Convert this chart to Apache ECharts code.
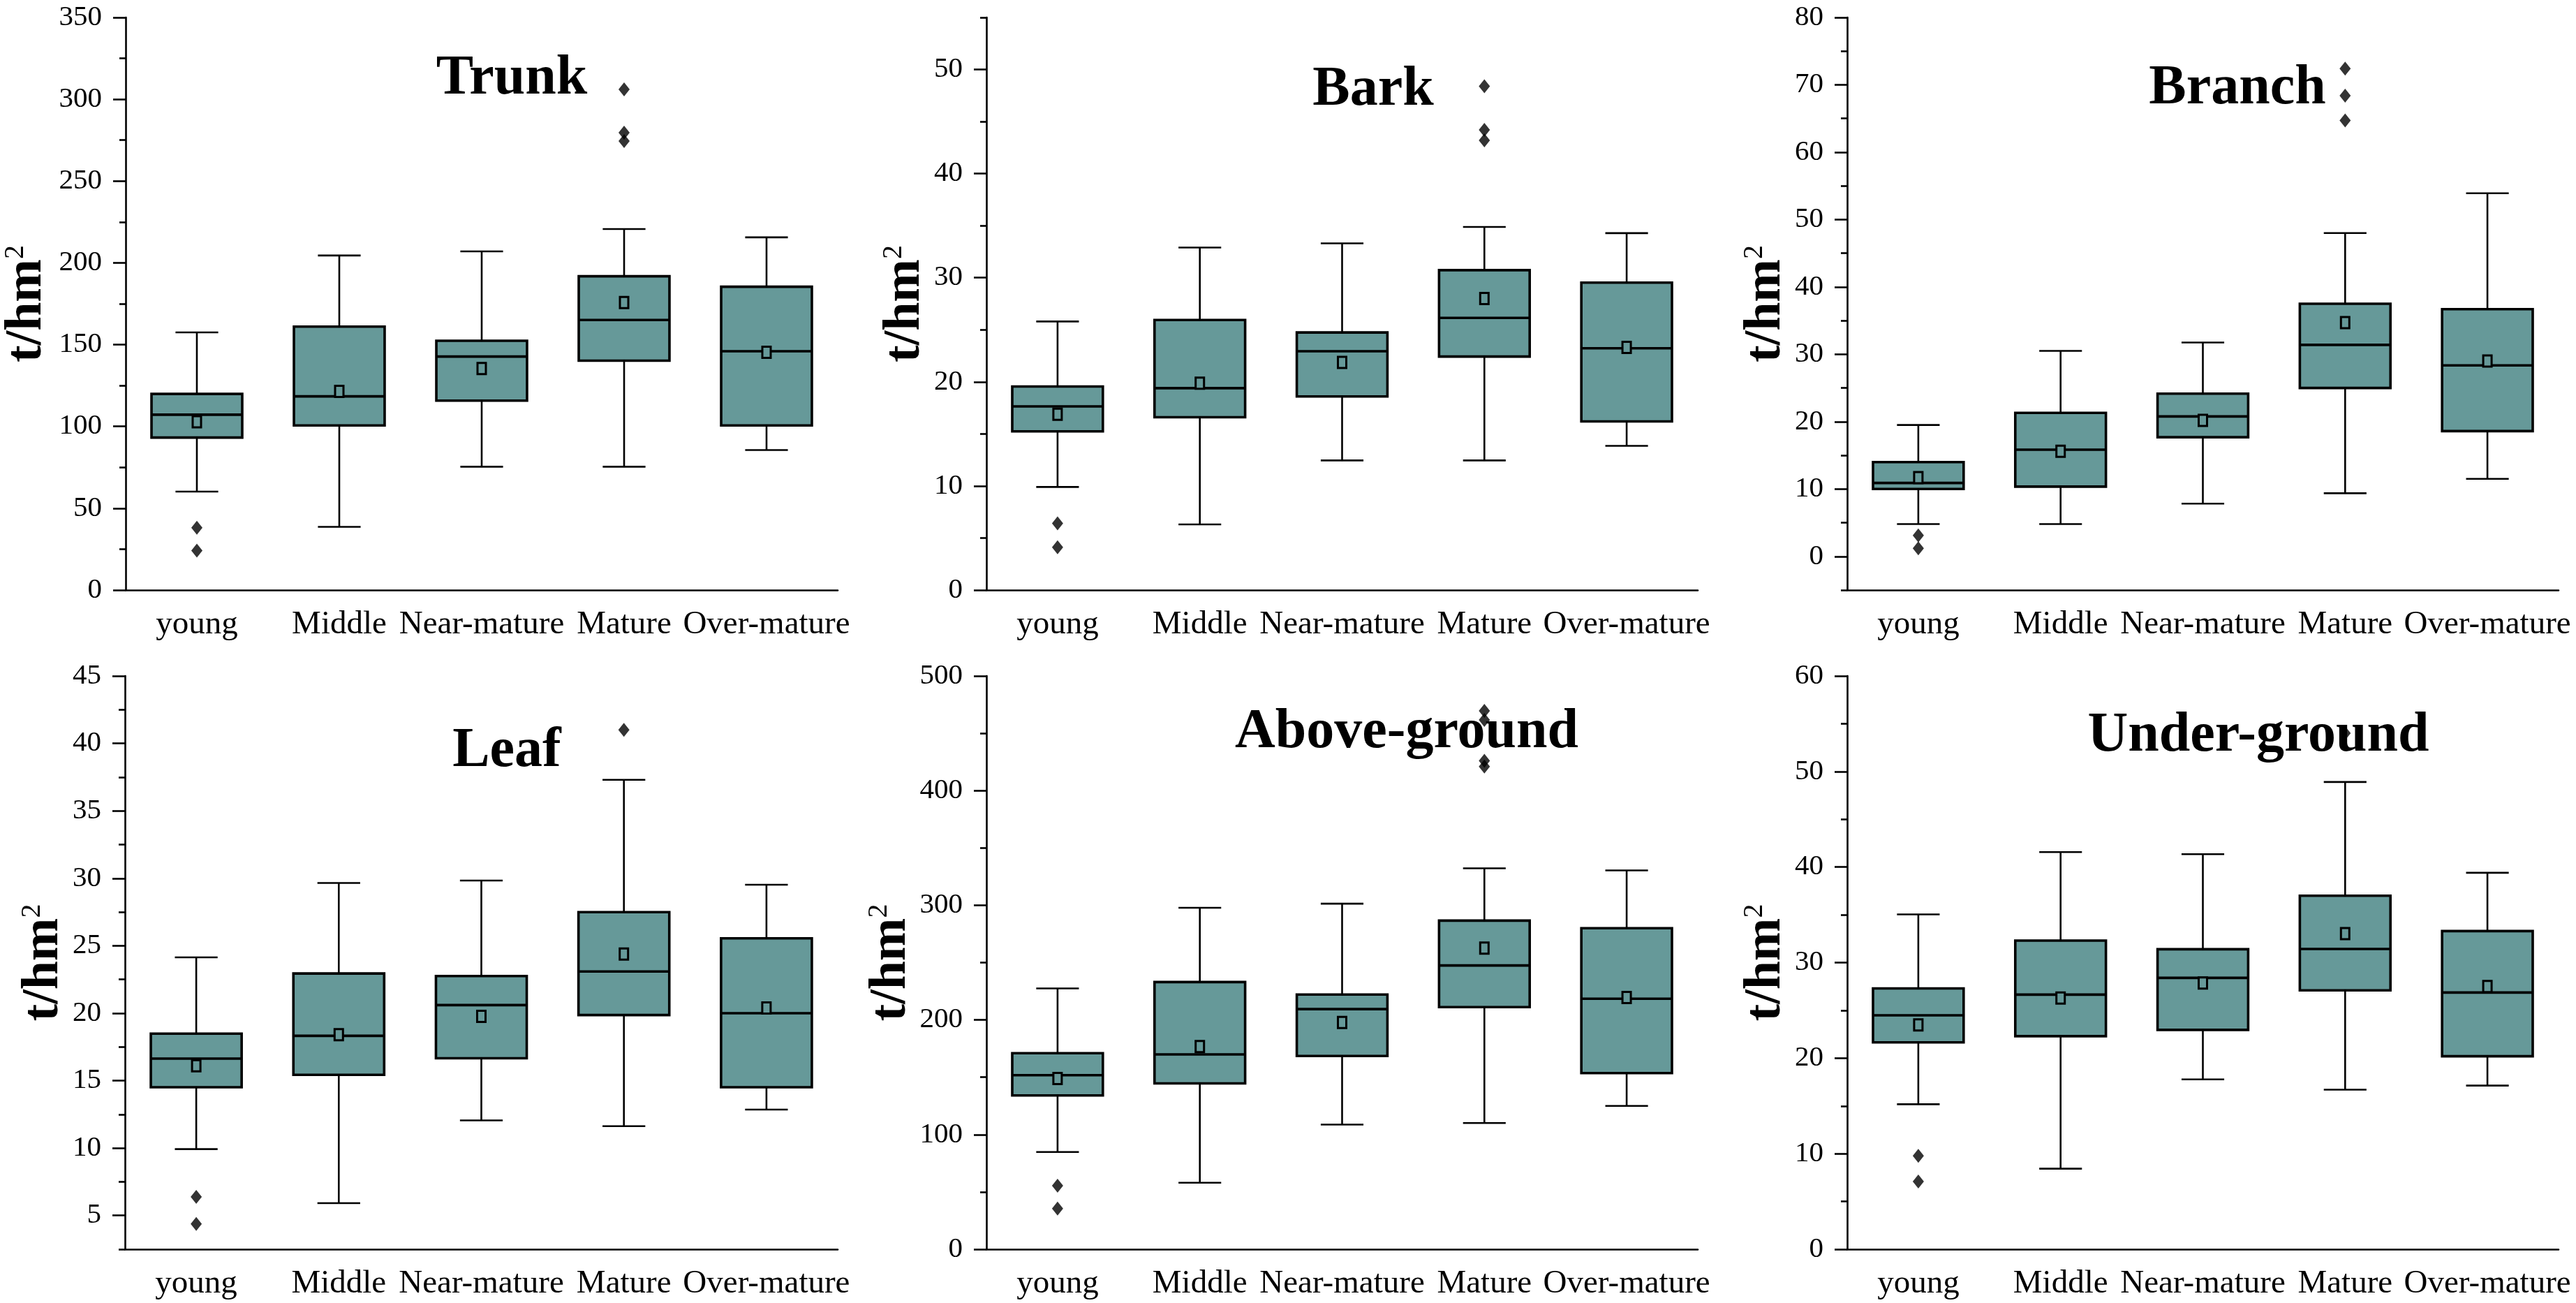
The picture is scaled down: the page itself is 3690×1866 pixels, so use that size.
<!DOCTYPE html>
<html>
<head>
<meta charset="utf-8">
<script src="https://cdn.jsdelivr.net/npm/echarts@6/dist/echarts.min.js"></script>
<style>
html, body { margin: 0; padding: 0; background: #fff; }
#chart { width: 3690px; height: 1866px; }
</style>
</head>
<body>
<div id="chart"></div>
<script>
// 类别
const categories = ['young', 'Middle', 'Near-mature', 'Mature', 'Over-mature'];

// 每个箱子: [下须, Q1, 中位数, Q3, 上须]
const trunkBox = [
  [60.2, 93.2, 107.2, 119.9, 157.5],
  [38.6, 100.6, 118.4, 161.0, 204.5],
  [75.4, 115.8, 142.7, 152.4, 207.0],
  [75.4, 140.2, 165.1, 191.8, 220.7],
  [85.6, 100.6, 146.0, 185.4, 215.6]
];
const trunkMean = [102.9, 121.4, 135.4, 175.8, 145.3];
const trunkOutliers = [[0, 38.1], [0, 24.1], [3, 306], [3, 279.6], [3, 274.4]];

const barkBox = [
  [9.9, 15.24, 17.64, 19.55, 25.8],
  [6.3, 16.6, 19.39, 25.94, 32.9],
  [12.45, 18.6, 22.94, 24.74, 33.3],
  [12.45, 22.43, 26.14, 30.73, 34.88],
  [13.85, 16.2, 23.22, 29.53, 34.28]
];
const barkMean = [16.88, 19.87, 21.87, 28.01, 23.3];
const barkOutliers = [[0, 6.4], [0, 4.1], [3, 48.4], [3, 44.2], [3, 43.2]];

const branchBox = [
  [4.8, 10.0, 10.9, 14.0, 19.5],
  [4.8, 10.35, 15.84, 21.3, 30.5],
  [7.83, 17.69, 20.77, 24.16, 31.74],
  [9.37, 25.0, 31.4, 37.5, 48.0],
  [11.5, 18.6, 28.35, 36.7, 53.9]
];
const branchMean = [11.7, 15.6, 20.2, 34.7, 29.0];
const branchOutliers = [[0, 3.1], [0, 1.2], [3, 72.4], [3, 68.4], [3, 64.7]];

const leafBox = [
  [9.92, 14.51, 16.63, 18.48, 24.14],
  [5.92, 15.43, 18.32, 22.94, 29.65],
  [12.05, 16.66, 20.6, 22.75, 29.83],
  [11.62, 19.86, 23.09, 27.49, 37.3],
  [12.85, 14.51, 20.0, 25.55, 29.52]
];
const leafMean = [16.1, 18.4, 19.77, 24.38, 20.38];
const leafOutliers = [[0, 6.38], [0, 4.38], [3, 41.0]];

const aboveBox = [
  [84.8, 134.1, 151.8, 171.0, 227.5],
  [58.0, 144.6, 169.9, 233.0, 297.8],
  [108.7, 168.5, 209.4, 222.1, 301.4],
  [110.1, 211.2, 247.5, 286.6, 332.2],
  [125.0, 153.6, 218.5, 280.0, 330.4]
];
const aboveMean = [148.9, 176.8, 197.8, 262.7, 219.6];
const aboveOutliers = [[0, 55.4], [0, 35.5], [3, 469.6], [3, 461.6], [3, 426], [3, 421]];

const underBox = [
  [15.17, 21.65, 24.48, 27.3, 35.04],
  [8.43, 22.3, 26.65, 32.3, 41.57],
  [17.78, 22.96, 28.4, 31.4, 41.35],
  [16.7, 27.09, 31.43, 37.0, 48.9],
  [17.13, 20.2, 26.87, 33.3, 39.4]
];
const underMean = [23.48, 26.3, 27.87, 33.04, 27.5];
const underOutliers = [[0, 9.78], [0, 7.09], [3, 54.0]];

// 坐标轴刻度
const trunkTicks = [0, 50, 100, 150, 200, 250, 300, 350];
const trunkMinor = [25, 75, 125, 175, 225, 275, 325];
const barkTicks = [0, 10, 20, 30, 40, 50];
const barkMinor = [5, 15, 25, 35, 45, 55];
const branchTicks = [0, 10, 20, 30, 40, 50, 60, 70, 80];
const branchMinor = [-5, 5, 15, 25, 35, 45, 55, 65, 75];
const leafTicks = [5, 10, 15, 20, 25, 30, 35, 40, 45];
const leafMinor = [2.5, 7.5, 12.5, 17.5, 22.5, 27.5, 32.5, 37.5, 42.5];
const aboveTicks = [0, 100, 200, 300, 400, 500];
const aboveMinor = [50, 150, 250, 350, 450];
const underTicks = [0, 10, 20, 30, 40, 50, 60];
const underMinor = [5, 15, 25, 35, 45, 55];

const panels = [
  { title: 'Trunk', box: trunkBox, mean: trunkMean, out: trunkOutliers, ticks: trunkTicks, minor: trunkMinor, min: 0, max: 350,
    left: 180, top: 25, width: 1020, height: 820, nameGap: 104, tx: 733, ty: 113 },
  { title: 'Bark', box: barkBox, mean: barkMean, out: barkOutliers, ticks: barkTicks, minor: barkMinor, min: 0, max: 55,
    left: 1413, top: 25, width: 1019, height: 820, nameGap: 76, tx: 1967, ty: 129 },
  { title: 'Branch', box: branchBox, mean: branchMean, out: branchOutliers, ticks: branchTicks, minor: branchMinor, min: -5, max: 80,
    left: 2646, top: 25, width: 1019, height: 820, nameGap: 73, tx: 3205, ty: 127 },
  { title: 'Leaf', box: leafBox, mean: leafMean, out: leafOutliers, ticks: leafTicks, minor: leafMinor, min: 2.5, max: 45,
    left: 179, top: 968, width: 1021, height: 821, nameGap: 78, tx: 726, ty: 1076 },
  { title: 'Above-ground', box: aboveBox, mean: aboveMean, out: aboveOutliers, ticks: aboveTicks, minor: aboveMinor, min: 0, max: 500,
    left: 1413, top: 968, width: 1019, height: 821, nameGap: 92, tx: 2015, ty: 1049 },
  { title: 'Under-ground', box: underBox, mean: underMean, out: underOutliers, ticks: underTicks, minor: underMinor, min: 0, max: 60,
    left: 2646, top: 968, width: 1019, height: 821, nameGap: 73, tx: 3235, ty: 1054 }
];

const FONT = '"Liberation Serif", "Times New Roman", serif';
const BOX_COLOR = '#669999';

function renderBox(params, api) {
  const idx = api.value(0);
  const band = api.size([1, 0])[0];
  const bw = band * 0.637;
  const cw = band * 0.30;
  const lo = api.coord([idx, api.value(1)]);
  const q1 = api.coord([idx, api.value(2)]);
  const md = api.coord([idx, api.value(3)]);
  const q3 = api.coord([idx, api.value(4)]);
  const hi = api.coord([idx, api.value(5)]);
  const mn = api.coord([idx, api.value(6)]);
  const cx = lo[0];
  const thin = { stroke: '#000', lineWidth: 2.6 };
  return {
    type: 'group',
    children: [
      { type: 'line', shape: { x1: cx, y1: hi[1], x2: cx, y2: q3[1] }, style: thin },
      { type: 'line', shape: { x1: cx, y1: q1[1], x2: cx, y2: lo[1] }, style: thin },
      { type: 'line', shape: { x1: cx - cw / 2, y1: hi[1], x2: cx + cw / 2, y2: hi[1] }, style: thin },
      { type: 'line', shape: { x1: cx - cw / 2, y1: lo[1], x2: cx + cw / 2, y2: lo[1] }, style: thin },
      { type: 'rect', shape: { x: cx - bw / 2, y: q3[1], width: bw, height: q1[1] - q3[1] },
        style: { fill: BOX_COLOR, stroke: '#000', lineWidth: 3.6 } },
      { type: 'line', shape: { x1: cx - bw / 2, y1: md[1], x2: cx + bw / 2, y2: md[1] },
        style: { stroke: '#000', lineWidth: 3.6 } },
      { type: 'rect', shape: { x: mn[0] - 6, y: mn[1] - 8, width: 12, height: 16 },
        style: { fill: BOX_COLOR, stroke: '#000', lineWidth: 3 } }
    ]
  };
}

const chart = echarts.init(document.getElementById('chart'), null, { renderer: 'canvas' });

const grid = [], xAxis = [], yAxis = [], series = [], graphic = [];
panels.forEach((p, i) => {
  grid.push({ left: p.left, top: p.top, width: p.width, height: p.height });
  xAxis.push({
    gridIndex: i,
    type: 'category',
    data: categories,
    axisLine: { onZero: false, lineStyle: { color: '#000', width: 2.6 } },
    axisTick: { alignWithLabel: true, length: 17, lineStyle: { color: '#000', width: 2.6 } },
    axisLabel: { fontFamily: FONT, fontSize: 47, color: '#000', margin: 26, interval: 0 },
    splitLine: { show: false }
  });
  // 主刻度轴
  yAxis.push({
    gridIndex: i,
    type: 'value',
    position: 'left',
    min: p.min,
    max: p.max,
    axisLine: { show: true, lineStyle: { color: '#000', width: 2.6 } },
    axisTick: { show: true, length: 18, customValues: p.ticks, lineStyle: { color: '#000', width: 2.6 } },
    axisLabel: { customValues: p.ticks, fontFamily: FONT, fontSize: 41, color: '#000', margin: 34 },
    splitLine: { show: false },
    name: '{a|t/hm}{b|2}',
    nameLocation: 'middle',
    nameRotate: 90,
    nameGap: p.nameGap,
    nameTextStyle: {
      rich: {
        a: { fontFamily: FONT, fontSize: 74, fontWeight: 'bold', color: '#000' },
        b: { fontFamily: FONT, fontSize: 40, color: '#000', verticalAlign: 'top' }
      }
    }
  });
  // 次刻度轴（短刻度）
  yAxis.push({
    gridIndex: i,
    type: 'value',
    position: 'left',
    min: p.min,
    max: p.max,
    axisLine: { show: false },
    axisTick: { show: true, length: 9, customValues: p.minor, lineStyle: { color: '#000', width: 2.6 } },
    axisLabel: { show: false },
    splitLine: { show: false }
  });
  series.push({
    type: 'custom',
    xAxisIndex: i,
    yAxisIndex: i * 2,
    renderItem: renderBox,
    encode: { x: 0, y: [1, 2, 3, 4, 5, 6] },
    data: p.box.map((b, j) => [j].concat(b, [p.mean[j]])),
    z: 3
  });
  series.push({
    type: 'scatter',
    xAxisIndex: i,
    yAxisIndex: i * 2,
    symbol: 'diamond',
    symbolSize: [16, 20],
    itemStyle: { color: '#000' },
    data: p.out,
    z: 4
  });
  graphic.push({
    type: 'text',
    x: p.tx,
    y: p.ty,
    z: 1,
    style: {
      text: p.title,
      font: 'bold 80px ' + FONT,
      fill: '#000',
      align: 'center',
      verticalAlign: 'middle',
      textAlign: 'center',
      textVerticalAlign: 'middle'
    }
  });
});

chart.setOption({
  backgroundColor: '#fff',
  animation: false,
  grid: grid,
  xAxis: xAxis,
  yAxis: yAxis,
  series: series,
  graphic: graphic
});
</script>
</body>
</html>
